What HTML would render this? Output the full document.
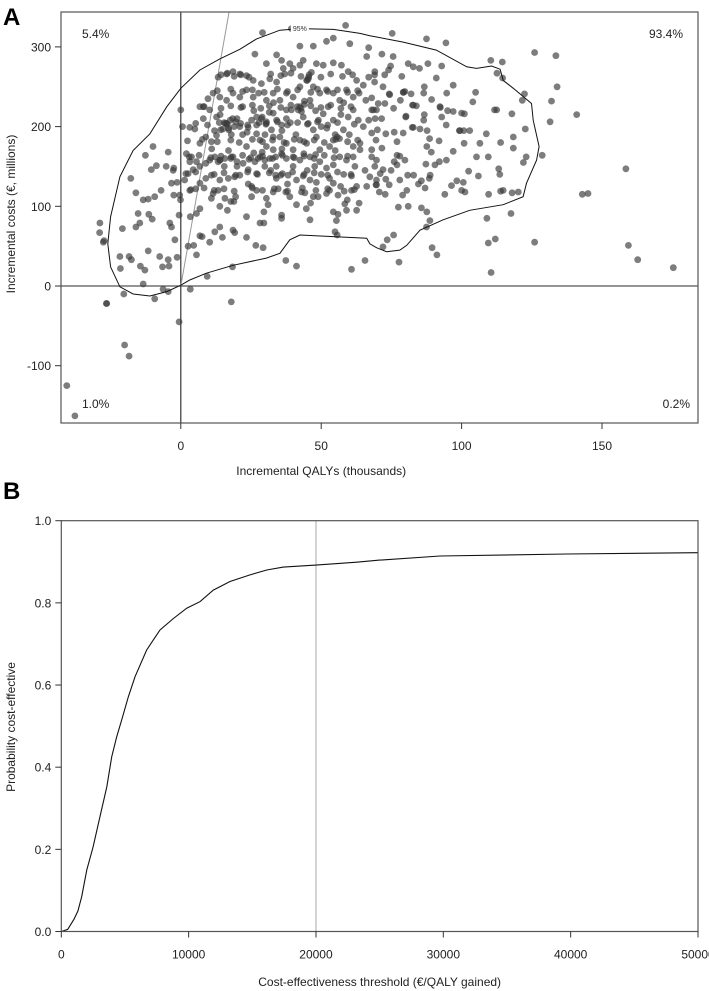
<!DOCTYPE html>
<html><head><meta charset="utf-8"><title>Cost-effectiveness plane and CEAC</title>
<style>
html,body{margin:0;padding:0;background:#fff;}
svg{display:block;font-family:"Liberation Sans",Arial,sans-serif;}
</style></head>
<body>
<svg id="fig" width="709" height="991" viewBox="0 0 709 991">
  <text x="3" y="25" font-size="24" font-weight="bold">A</text>
  <text x="3" y="499" font-size="24" font-weight="bold">B</text>
  <g id="panelA"></g>
  <g id="panelB"></g>
</svg>
<script>
// ---- Panel A data (incremental QALYs thousands, incremental costs € millions) ----
const scatterPoints = [
[75.3,317],[87.5,310],[94.4,305],[114.5,281],[126,293],[133.6,289],[134,250],[132,232],[131.5,206],[141,215],
[158.5,147],[143,115],[145,116],[159.4,51],[162.7,33],[175.4,23],[126,55],[110.5,17],[109.5,54],[112,59],
[117.6,91],[109,85],[122.7,197],[123,162],[122,155],[128.7,164],[121.6,233],[122.4,241],[118.4,187],[118.4,173],
[113.9,180],[117.9,216],[111.7,221],[112.5,221],[110.4,283],[112.6,267],[114.6,261],[113.2,147],[113.6,140],[113.9,119],
[114.8,120],[118,117],[120.2,118],[109.6,115],[108.8,191],[109.5,162],[105.3,162],[106.5,179],[100.9,179],[102.5,144],
[106,138],[101.2,118],[100.6,130],[100,120],[98.3,132],[96.4,126],[94,115],[100.8,195],[99.2,195],[102.9,195],
[97,169],[100,217],[101,216],[95,220],[97,219],[92.9,212],[92.4,224],[94.5,202],[97,252],[94.7,242],
[105,243],[104,231],[91,261],[92.9,276],[88,279],[85,273],[82.8,275],[81,279],[78.7,263],[75.6,288],
[71.6,291],[74.7,276],[89.3,234],[86.5,242],[86.7,250],[82,241],[79.2,243],[74.2,241],[78.2,233],[82.5,227],
[83.9,226],[92.3,225],[86.7,215],[80.2,213],[82.8,199],[85.2,197],[87.7,195],[88.6,185],[92,182],[94.6,158],
[89.2,168],[87.6,175],[87.3,153],[90.5,152],[92.1,156],[88.8,139],[88.5,135],[87,123],[85.7,132],[84.6,128],
[82.9,139],[80.8,139],[78,133],[79,114],[80.5,120],[77.5,99],[81,100],[85.7,98],[87.6,93],[88.7,82],
[87.5,74],[89.5,48],[91.2,39],[77.7,30],[73.5,58],[72,49],[75.8,64],[72.8,115],[70.7,118],[69.5,127],
[74.2,127],[73,134],[71,141],[72,146],[74.9,145],[76,156],[77,164],[78,163],[79.8,158],[77,152],
[69.7,158],[71.6,173],[69.5,183],[77,181],[76,193],[79.2,192],[82.4,199],[80.1,212],[70,196],[73,191],
[69.2,210],[71.5,210],[75.8,223],[72.7,229],[74.4,240],[69.7,221],[72,250],[69,256],[74,271],[72.6,265],
[69,265],[79.3,243],[82.8,227],[79.8,244],[68,236],[68,221],[68,192],[68,171],[68,162],[69.7,133],
[86.5,208],[99.4,195],
[0,221],[0.6,200],[3.2,199],[5,197],[-9.9,175],[-12.6,164],[-4.5,168],[-10.5,146],[-8.7,151],[-5.2,150],
[-2.5,148],[-2.7,145],[-17.8,135],[-16,117],[-13.4,108],[-11.6,109],[-9.3,112],[-7,120],[-3.3,129],[-1.3,130],
[-2.5,114],[-0.4,114],[-0.1,108],[-0.6,89],[-3.9,79],[-3.3,74],[-15.2,91],[-11.4,90],[-10.2,84],[-14.6,79],
[-16,74],[-20.8,72],[-28.9,67],[-27.3,57],[-2.1,58],[-11.6,44],[-21.7,37],[-18.4,37],[-17.6,33],[-14.4,25],
[-12.8,20],[-7.5,37],[-4.5,33],[-6.5,24],[-4.2,25],[-1.3,36],[-21.5,22],[-13.4,2.5],[-6.3,-4],[-4.5,-7],
[-9.3,-16],[-20.3,-10],[-26.5,-22],[3.4,-4],[18,-20],[9.4,12],[18.4,24],[5.6,39],[2.6,50],[4.6,51],
[6.8,63],[7.6,62],[10.3,55],[12.1,68],[13.9,74],[14.8,61],[18.6,70],[19.2,67],[23.4,61],[26.7,51],
[29.3,48],[28.2,79],[29.6,79],[35.9,89],[35.9,85],[46,83],[54.9,68],[55.7,64],[55.4,82],[54.3,93],
[56,90],[58.4,103],[59.3,108],[60.8,120],[63.5,104],[62.6,95],[59,95],[37.4,32],[41.2,25],[60.8,21],
[65.6,32],[3.4,87],[5.6,91],[6.8,97],[10.9,110],[11.5,116],[13.3,120],[15.7,110],[17.8,106],[18.9,106],
[13.9,100],[16.6,95],[19.5,112],[23.4,87],[25.2,125],[25.2,112],[27,120],[29.6,93],[31.1,102],[30.5,110],
[32.9,118],[34.7,122],[37.4,118],[38.8,112],[41.2,102],[43,118],[44.2,117],[44.7,97],[46.2,104],[47.2,112],
[48.9,112],[51.9,116],[53,120],[54.3,129],[56,114],[56.9,125],[48.3,130],[46,133],[43.6,138],[41.2,133],
[38.2,139],[36.2,141],[33.8,139],[32,145],[29.9,150],[27,141],[24,146],[21,139],[19.2,137],[16.9,135],
[13.9,133],[10.9,139],[8.9,135],[6.8,129],[5.3,122],[3.2,120],[1.4,133],[2.6,141],[4.4,146],[6.8,150],
[8.9,154],[10.3,158],[12.1,162],[13.3,156],[15.7,160],[18,162],[20,156],[22.2,154],[24.3,159],[26.4,156],
[28.2,162],[29.9,158],[31.7,160],[33.8,162],[35.9,166],[37.6,160],[40,162],[42.4,158],[43.8,166],[46,162],
[47.7,150],[49.5,156],[51.9,148],[54.3,152],[56.6,162],[59,158],[61.4,162],[63.8,171],[65.6,145],[67.3,137],
[69.1,150],[69.7,127],[66.2,125],[62.6,125],[60.8,138],[2,166],[3.8,162],[5.6,156],[3.2,156],[6.8,179],
[8.9,187],[10.9,181],[12.7,189],[14.2,196],[15.9,204],[17.1,196],[19,200],[21.3,204],[23.6,193],[25.2,208],
[27,202],[28.7,210],[30.5,204],[32.3,196],[34.1,208],[35.9,202],[37.6,210],[39.4,221],[41.8,221],[43.6,212],
[45.4,204],[47.2,196],[49,208],[50.7,216],[52.5,225],[54.3,208],[55.7,187],[57.9,196],[59.6,212],[61.4,221],
[63.2,208],[65,200],[66.9,208],[68.6,221],[70.3,229],[65.9,233],[63.5,242],[61.4,237],[59,246],[56.6,233],
[54.3,242],[51.9,246],[49.5,242],[47.2,250],[44.8,258],[42.4,250],[40,237],[37.6,242],[35.3,233],[32.9,242],
[30.5,233],[27.7,242],[25.8,237],[23.4,246],[21,237],[18.6,242],[16.3,233],[13.9,237],[11.5,242],[9.7,235],
[8,225],[10.3,221],[12.7,212],[13.3,262],[16.3,266],[18.6,269],[21,266],[23.4,264],[25.8,258],[28.7,254],
[31.7,260],[34.1,256],[37,266],[40,273],[42.4,277],[45.4,260],[48.3,279],[50.7,277],[54.3,280],[57.2,277],
[59.6,269],[62.6,258],[65,252],[66.9,262],[69.1,269],[66.2,288],[66.9,299],[60.2,304],[54.3,311],[51.9,307],
[47.2,301],[42.4,301],[39.4,323],[58.7,327],[29.1,318],[26.4,291],[34.1,290],[35.9,283],[38.8,279],[43.6,283],
[36.5,273],[30.5,279],[6.8,225],
[16.3,204],[17.6,208],[21,200],[27,212],[32.9,217],[37.6,221],[42.4,225],[46,233],[45,258],[18.6,162],
[13.9,158],[32.9,171],[37.6,179],[42.4,183],[48.3,187],[54.3,183],[61.4,175],[63.8,179],[35.3,187],[28.2,183],
[23.4,175],[30.5,175],[40,171],[44.8,179],[49.5,171],[53,175],[27,191],[32.9,187],
[15,197],[18,190],[20,210],[24,199],[26,220],[30,190],[33,230],[36,195],[39,205],[41,190],
[44,228],[48,220],[52,198],[57,215],[60,190],[14,215],[22,225],[29,168],[34,150],[40,150],
[45,145],[50,140],[55,170],[58,140],[62,150],[11,172],[17,170],[24,128],[38,128],[53,135],
[14.3,265],[16.6,267],[19,263],[21.4,265],[24.3,262],[32,266],[35.6,264],[39.2,267],[42.8,263],[45.7,265],[49.9,262],[53.4,266],[57.6,263],[61.2,265],
[13,245],[17.8,247],[22,244],[25.5,246],[29.7,243],[34.4,247],[38,244],[41.6,246],[46.3,243],[48.7,247],[52.3,244],[55.8,246],[59.4,243],[63,245],
[8.3,225],[14.3,223],[17.8,226],[21.4,224],[25.5,227],[28.5,223],[31.5,226],[35.6,224],[39.2,227],[42.8,223],[46.3,226],[49.9,224],[53.4,227],[57,223],[60.6,225],
[5.3,204],[9.5,202],[13.7,205],[16.6,203],[19.6,206],[23.8,202],[27.9,205],[30.3,203],[34.4,206],[38,202],[41.6,205],[45.1,203],[48.7,206],[52.3,202],[55.8,205],[61.8,203],
[2.4,182],[7.7,184],[13,181],[17.8,183],[20.8,180],[25.5,184],[29.1,181],[32.7,183],[36.8,180],[40.4,184],[43.9,181],[47.5,183],[51.1,180],[55.2,184],[59.4,181],[63,183],
[3,162],[6.5,164],[10.7,161],[14.3,163],[17.8,160],[22,164],[24.9,161],[29.1,163],[32.7,160],[36.2,164],[40.4,161],[43.9,163],[47.5,160],[51.1,164],[54.6,161],[59.4,163],
[1.8,141],[5.3,143],[11.9,140],[15.4,142],[19.6,139],[23.8,143],[27.3,140],[31.5,142],[35.6,139],[39.8,143],[43.9,140],[47.5,142],[52.3,139],[55.8,143],[60.6,140],
[3.6,121],[8.3,123],[11.9,120],[15.4,122],[19,119],[25.5,123],[29.1,120],[33.3,122],[38,119],[43.3,123],[48.1,120],[52.3,122],[58.2,119],[61.8,121],
[15.5,205],[17,198],[18.5,210],[29,212],[30.5,206],[31.5,218],[41.5,225],[43,219],[45.5,262],[46.5,268],[55,190],[56.5,185],[14,158],[15.5,150],[26,167],[27.5,160],
[8,210],[12,195],[22,190],[36,172],[44,232],[50,200],[58,230],[20,150],[34,135],[48,165],
[-40.6,-125],[-37.7,-163],[-20,-74],[-18.4,-88],[-0.6,-45],[-26.4,-22],[-28.8,79],[-27.6,55]
];
// 95% confidence contour (QALYs, costs)
const contourPoints = [
[0,1],[-5,-7],[-11,-12.5],[-17,-10],[-21.7,-1],[-25,24],[-26,53],[-25,87],[-21.7,137],[-17,170],
[-11,191],[-5,225],[0,248],[6.8,271],[13.9,285],[21,297],[27,310],[35.3,321],[42.4,323],[54.3,322],
[63.8,317],[67.3,314],[79.2,306],[91,296],[101.8,275],[105.3,273],[110.7,276],[113.7,272],[114.8,258],[118.4,248],
[124.9,229],[125.5,208],[127.6,175],[126.7,158],[123.1,129],[121.9,112],[114.8,102],[102.9,95],[93.4,83],[85.2,70],
[80.4,51],[78,45],[73.3,43],[69.7,48],[67.3,53],[66.2,60],[54.3,62],[42.4,64],[38.8,58],[35.3,41],
[30.5,35],[18.6,26],[9.1,16],[3.2,7.5],[0,1]
];
const xTicksA = [0, 50, 100, 150];
const yTicksA = [-100, 0, 100, 200, 300];
const thresholdSlope = 20; // € millions per thousand QALYs (=€20,000/QALY)
const quadrantLabels = ["5.4%", "93.4%", "1.0%", "0.2%"];

// ---- Panel B data ----
const wtpThresholds = [0,500,1000,1300,1600,2000,2500,3040,3570,3960,4350,4740,5260,5790,6700,7230,7750,8800,9850,10900,11940,13250,14820,16130,17440,20000,23200,25000,29750,39700,50000];
const probCE = [0,0.005,0.03,0.05,0.085,0.15,0.206,0.28,0.352,0.425,0.474,0.515,0.571,0.62,0.685,0.71,0.734,0.762,0.787,0.803,0.831,0.852,0.868,0.88,0.887,0.892,0.899,0.904,0.914,0.919,0.922];
const xTicksB = [0, 10000, 20000, 30000, 40000, 50000];
const yTicksB = [0, 0.2, 0.4, 0.6, 0.8, 1.0];
const refThreshold = 20000;

const NS = "http://www.w3.org/2000/svg";
function mk(tag, attrs, parent){const e=document.createElementNS(NS,tag);for(const k in attrs)e.setAttribute(k,attrs[k]);parent.appendChild(e);return e;}

// Panel A
(function(){
  const g = document.getElementById('panelA');
  const L=61,R=698,T=12,B=423;
  const xA = v => 180.8 + v*2.808;
  const yA = v => 286 - v*0.797;
  const clip = mk('clipPath',{id:'clipA'},g);
  mk('rect',{x:L,y:T,width:R-L,height:B-T},clip);
  const hz = mk('line',{x1:L,x2:R,y1:yA(0),y2:yA(0),stroke:'#555','stroke-width':1.2},g);
  
  
  const vz = mk('line',{x1:xA(0),x2:xA(0),y1:T,y2:B,stroke:'#333','stroke-width':1.2},g);
  
  
  const yTop = 344;
  const th = mk('line',{x1:xA(0),y1:yA(0),x2:xA(yTop/thresholdSlope),y2:yA(yTop),stroke:'#999','stroke-width':1,'clip-path':'url(#clipA)'},g);
  
  
  const pg = mk('g',{'clip-path':'url(#clipA)'},g);
  
  
  scatterPoints.forEach(p=>{
    const c = mk('circle',{cx:xA(p[0]).toFixed(1),cy:yA(p[1]).toFixed(1),r:3.4,fill:'#3a3a3a','fill-opacity':0.66},pg);
    
    
  });
  const d = contourPoints.map((p,i)=>(i?'L':'M')+xA(p[0]).toFixed(1)+','+yA(p[1]).toFixed(1)).join(' ');
  const ct = mk('path',{d:d,fill:'none',stroke:'#111','stroke-width':1},g);
  
  
  const cl = mk('rect',{x:xA(42.4)-9,y:yA(323)-4,width:18,height:8,fill:'#fff'},g);
  
  
  const ctl = mk('text',{x:xA(42.4),y:yA(323)+2.5,'font-size':7,'text-anchor':'middle',fill:'#333'},g);
  ctl.textContent='95%';
  
  
  const bx = mk('rect',{x:L,y:T,width:R-L,height:B-T,fill:'none',stroke:'#555','stroke-width':1.2},g);
  
  
  xTicksA.forEach(v=>{
    const t=mk('line',{x1:xA(v),x2:xA(v),y1:B,y2:B+6,stroke:'#333'},g);
    
    
    const tx=mk('text',{x:xA(v),y:B+27,'font-size':12,'text-anchor':'middle',fill:'#222'},g);
    tx.textContent=v;
    
    
  });
  yTicksA.forEach(v=>{
    const t=mk('line',{x1:L-6,x2:L,y1:yA(v),y2:yA(v),stroke:'#333'},g);
    
    
    const tx=mk('text',{x:L-10,y:yA(v)+4.5,'font-size':12,'text-anchor':'end',fill:'#222'},g);
    tx.textContent=v;
    
    
  });
  const xt=mk('text',{x:xA(50),y:475,'font-size':12,'text-anchor':'middle',fill:'#222'},g);
  xt.textContent='Incremental QALYs (thousands)';
  
  
  const yt=mk('text',{x:0,y:0,'font-size':12,'text-anchor':'middle',fill:'#222',transform:'translate(15,214) rotate(-90)'},g);
  yt.textContent='Incremental costs (€, millions)';
  
  
  const qpos=[[82,38,'start'],[683,38,'end'],[82,408,'start'],[690,408,'end']];
  quadrantLabels.forEach((s,i)=>{
    const q=mk('text',{x:qpos[i][0],y:qpos[i][1],'font-size':12,'text-anchor':qpos[i][2],fill:'#222'},g);
    q.textContent=s;
    
    
  });
})();

// Panel B
(function(){
  const g = document.getElementById('panelB');
  const L=61.3,R=698,T=520.7,B=931.5;
  const xB = v => L + v*(R-L)/50000;
  const yB = v => B - v*(B-T);
  const rl = mk('line',{x1:xB(refThreshold),x2:xB(refThreshold),y1:T,y2:B,stroke:'#aaa','stroke-width':1},g);
  
  
  const d = wtpThresholds.map((t,i)=>(i?'L':'M')+xB(t).toFixed(1)+','+yB(probCE[i]).toFixed(1)).join(' ');
  const c = mk('path',{d:d,fill:'none',stroke:'#111','stroke-width':1.1},g);
  
  
  const bx = mk('rect',{x:L,y:T,width:R-L,height:B-T,fill:'none',stroke:'#555','stroke-width':1.2},g);
  
  
  xTicksB.forEach(v=>{
    const t=mk('line',{x1:xB(v),x2:xB(v),y1:B,y2:B+6,stroke:'#333'},g);
    
    
    const tx=mk('text',{x:xB(v),y:B+27,'font-size':12,'text-anchor':'middle',fill:'#222'},g);
    tx.textContent=v;
    
    
  });
  yTicksB.forEach(v=>{
    const t=mk('line',{x1:L-6,x2:L,y1:yB(v),y2:yB(v),stroke:'#333'},g);
    
    
    const tx=mk('text',{x:L-10,y:yB(v)+4.5,'font-size':12,'text-anchor':'end',fill:'#222'},g);
    tx.textContent=v.toFixed(1);
    
    
  });
  const xt=mk('text',{x:xB(25000),y:986,'font-size':12,'text-anchor':'middle',fill:'#222'},g);
  xt.textContent='Cost-effectiveness threshold (€/QALY gained)';
  
  
  const yt=mk('text',{x:0,y:0,'font-size':12,'text-anchor':'middle',fill:'#222',transform:'translate(15,727) rotate(-90)'},g);
  yt.textContent='Probability cost-effective';
  
  
})();
</script>
</body></html>
